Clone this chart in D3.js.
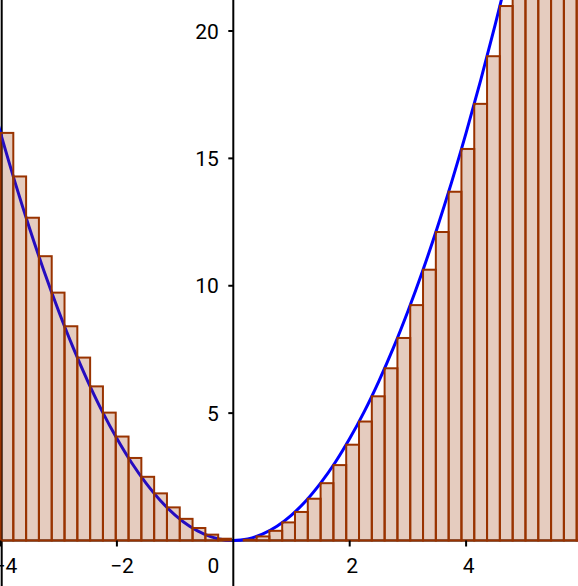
<!DOCTYPE html>
<html>
<head>
<meta charset="utf-8">
<script src="https://cdn.jsdelivr.net/npm/d3@7"></script>
<style>
  body { margin: 0; background: #fff; }
  svg { display: block; font-family: Roboto, "Noto Sans", sans-serif; }
</style>
</head>
<body>
<svg id="chart" width="578" height="586"></svg>
<script>
// left edges of the rectangles (width 0.22) and their heights
const barLeft = [-4, -3.78, -3.56, -3.34, -3.12, -2.9, -2.68, -2.46, -2.24, -2.02,
    -1.8, -1.58, -1.36, -1.14, -0.92, -0.7, -0.48, -0.26, -0.04, 0.18,
    0.4, 0.62, 0.84, 1.06, 1.28, 1.5, 1.72, 1.94, 2.16, 2.38,
    2.6, 2.82, 3.04, 3.26, 3.48, 3.7, 3.92, 4.14, 4.36, 4.58,
    4.8, 5.02, 5.24, 5.46, 5.68, 5.9];
const barHeight = [16, 14.29, 12.67, 11.16, 9.73, 8.41, 7.18, 6.05, 5.02, 4.08,
    3.24, 2.5, 1.85, 1.3, 0.85, 0.49, 0.23, 0.07, 0.0, 0.03,
    0.16, 0.38, 0.71, 1.12, 1.64, 2.25, 2.96, 3.76, 4.67, 5.66,
    6.76, 7.95, 9.24, 10.63, 12.11, 13.69, 15.37, 17.14, 19.01, 20.98,
    23.0, 25.2, 27.5, 29.8, 32.3, 34.8];

// points along the blue curve
const curveX = [-4.25, -4, -3.75, -3.5, -3.25, -3, -2.75, -2.5, -2.25, -2, -1.75, -1.5, -1.25, -1,
    -0.75, -0.5, -0.25, 0, 0.25, 0.5, 0.75, 1, 1.25, 1.5, 1.75, 2, 2.25, 2.5, 2.75, 3,
    3.25, 3.5, 3.75, 4, 4.25, 4.5, 4.75];
const curveY = [18.06, 16, 14.06, 12.25, 10.56, 9, 7.56, 6.25, 5.06, 4, 3.06, 2.25, 1.56, 1,
    0.56, 0.25, 0.06, 0, 0.06, 0.25, 0.56, 1, 1.56, 2.25, 3.06, 4, 5.06, 6.25, 7.56, 9,
    10.56, 12.25, 14.06, 16, 18.06, 20.25, 22.56];

const xTicks = [-4, -2, 0, 2, 4];
const yTicks = [5, 10, 15, 20];
const barStep = 0.22;

const svg = d3.select("#chart");
const W = 578, H = 586;

const x = d3.scaleLinear().domain([-4, 4]).range([0.5, 466.1]);
const y = d3.scaleLinear().domain([0, 20]).range([540.5, 31]);

// x axis line and vertical marker at x = -4
svg.append("line")
    .attr("x1", 0).attr("x2", W)
    .attr("y1", y(0)).attr("y2", y(0))
    .attr("stroke", "#000").attr("stroke-width", 2);
svg.append("line")
    .attr("x1", x(-4) + 1.2).attr("x2", x(-4) + 1.2)
    .attr("y1", 0).attr("y2", H)
    .attr("stroke", "#000").attr("stroke-width", 2);

// the function curve, under the translucent bars
const line = d3.line()
    .x((d, i) => x(curveX[i]))
    .y(d => y(d))
    .curve(d3.curveCatmullRom);
svg.append("path")
    .datum(curveY)
    .attr("d", line)
    .attr("fill", "none")
    .attr("stroke", "#0000ff")
    .attr("stroke-width", 3);

svg.append("g").selectAll("rect")
    .data(barLeft)
    .join("rect")
    .attr("x", d => x(d))
    .attr("width", x(barStep) - x(0))
    .attr("y", (d, i) => y(barHeight[i]))
    .attr("height", (d, i) => y(0) - y(barHeight[i]))
    .attr("fill", "#993300")
    .attr("fill-opacity", 0.25)
    .attr("stroke", "#993300")
    .attr("stroke-width", 2);

// y axis
svg.append("line")
    .attr("x1", x(0)).attr("x2", x(0))
    .attr("y1", 0).attr("y2", H)
    .attr("stroke", "#000").attr("stroke-width", 2);

const yAxis = svg.append("g");
yAxis.selectAll("line")
    .data(yTicks)
    .join("line")
    .attr("x1", x(0) - 5).attr("x2", x(0))
    .attr("y1", d => y(d)).attr("y2", d => y(d))
    .attr("stroke", "#000").attr("stroke-width", 2);
yAxis.selectAll("text")
    .data(yTicks)
    .join("text")
    .attr("x", x(0) - 14.5)
    .attr("y", d => y(d))
    .attr("dy", "0.36em")
    .attr("text-anchor", "end")
    .style("font-size", "21px")
    .text(d => d);

const xAxis = svg.append("g");
xAxis.selectAll("line")
    .data(xTicks.filter(d => d !== 0))
    .join("line")
    .attr("x1", d => x(d)).attr("x2", d => x(d))
    .attr("y1", y(0)).attr("y2", y(0) + 6)
    .attr("stroke", "#000").attr("stroke-width", 2);
xAxis.selectAll("text")
    .data(xTicks)
    .join("text")
    .attr("x", d => d === 0 ? x(0) - 20 : x(d) + (d < 0 ? 5 : 2.5))
    .attr("y", 572.5)
    .attr("text-anchor", "middle")
    .style("font-size", "21px")
    .text(d => d < 0 ? "\u2212" + Math.abs(d) : d);
</script>
</body>
</html>
